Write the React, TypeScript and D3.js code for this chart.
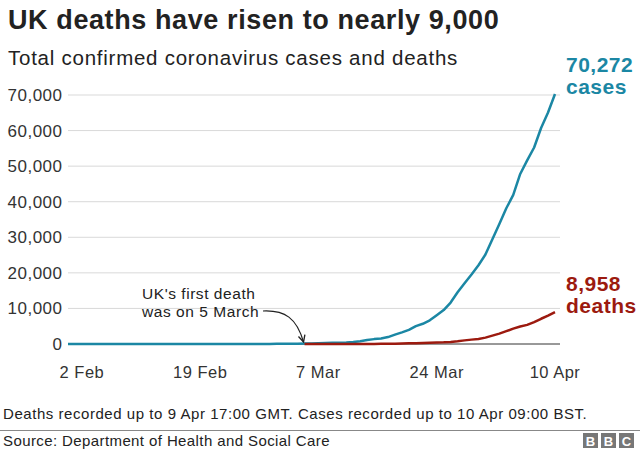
import React from "react";
import * as d3 from "d3";

const startDate = "2020-01-31";
const casesValues = [
  2, 2, 2, 2, 2, 2, 3, 3, 3, 4, 8, 8, 9, 9, 9, 9, 9, 9, 9, 9, 9, 9, 9, 9, 13, 13, 13, 15, 20, 23,
  36, 40, 51, 85, 115, 163, 206, 273, 321, 373, 456, 590, 798, 1140, 1372, 1543, 1950, 2626, 3269, 3983,
  5018, 5683, 6650, 8077, 9529, 11658, 14543, 17089, 19522, 22141, 25150,
  29474, 33718, 38168, 41903, 47806, 51608, 55242, 60733, 65077, 70272,
];
const deathsStart = "2020-03-05";
const deathsValues = [
  1, 2, 2, 3, 4, 6, 8, 8, 10, 21, 35, 55, 71, 104, 144, 177, 233, 281, 335, 422, 465, 578, 759, 1019,
  1228, 1408, 1789, 2352, 2921, 3605, 4313, 4934, 5373, 6159, 7097, 7978, 8958,
];
const yTicks = [0, 10000, 20000, 30000, 40000, 50000, 60000, 70000];
const xTickDates = ["2020-02-02", "2020-02-19", "2020-03-07", "2020-03-24", "2020-04-10"];
const xTickLabels = ["2 Feb", "19 Feb", "7 Mar", "24 Mar", "10 Apr"];

const TEAL = "#1b87a4";
const RED = "#9c1a0f";
const FONT = "Liberation Sans, Arial, Helvetica, sans-serif";

function series(start: string, vals: number[]) {
  const s = new Date(start + "T00:00:00Z");
  return vals.map((v, i) => ({ date: d3.utcDay.offset(s, i), value: v }));
}

export default function App() {
  const cases = series(startDate, casesValues);
  const deaths = series(deathsStart, deathsValues);
  const x = d3
    .scaleUtc()
    .domain([new Date("2020-01-31T00:00:00Z"), new Date("2020-04-10T00:00:00Z")])
    .range([68, 555]);
  const y = d3.scaleLinear().domain([0, 70000]).range([344, 95]);
  const line = d3
    .line<{ date: Date; value: number }>()
    .x((d) => x(d.date))
    .y((d) => y(d.value));
  const fmt = d3.format(",");
  const firstDeathX = x(new Date(deathsStart + "T00:00:00Z"));

  return (
    <svg
      width={640}
      height={450}
      style={{ position: "absolute", left: 0, top: 0, background: "#fff" }}
      fontFamily={FONT}
    >
      <defs>
        <marker id="arr" viewBox="0 0 10 10" refX="9" refY="5" markerWidth="7" markerHeight="7" orient="auto">
          <path d="M1,1 L9,5 L1,9" fill="none" stroke="#222" strokeWidth={1.6} />
        </marker>
      </defs>
      <text x={8} y={29} fontSize={27} fontWeight="bold" fill="#222" letterSpacing={0.6}>
        UK deaths have risen to nearly 9,000
      </text>
      <text x={8} y={64.5} fontSize={20.5} fill="#222" letterSpacing={0.75}>
        Total confirmed coronavirus cases and deaths
      </text>
      {yTicks.map((t) => (
        <g key={t}>
          <line
            x1={68}
            x2={560}
            y1={y(t)}
            y2={y(t)}
            stroke={t === 0 ? "#333" : "#d9d9d9"}
            strokeWidth={1}
          />
          <text x={62.5} y={y(t) + 6} fontSize={17} textAnchor="end" fill="#333" letterSpacing={0.5}>
            {fmt(t)}
          </text>
        </g>
      ))}
      {xTickDates.map((d, i) => (
        <text
          key={d}
          x={x(new Date(d + "T00:00:00Z"))}
          y={378}
          fontSize={16.5}
          textAnchor="middle"
          fill="#333"
          letterSpacing={0.5}
        >
          {xTickLabels[i]}
        </text>
      ))}
      <path d={line(cases) || ""} fill="none" stroke={TEAL} strokeWidth={2.5} strokeLinejoin="round" />
      <path d={line(deaths) || ""} fill="none" stroke={RED} strokeWidth={2.5} strokeLinejoin="round" />
      <text x={566} y={72} fontSize={21} fontWeight="bold" fill={TEAL} letterSpacing={0.5}>
        {fmt(casesValues[casesValues.length - 1])}
      </text>
      <text x={566} y={94} fontSize={21} fontWeight="bold" fill={TEAL} letterSpacing={0.5}>
        cases
      </text>
      <text x={566} y={291} fontSize={21} fontWeight="bold" fill={RED} letterSpacing={0.5}>
        {fmt(deathsValues[deathsValues.length - 1])}
      </text>
      <text x={566} y={313} fontSize={21} fontWeight="bold" fill={RED} letterSpacing={0.5}>
        deaths
      </text>
      <text x={142} y={299} fontSize={15.5} fill="#222" letterSpacing={0.55}>
        UK's first death
      </text>
      <text x={142} y={317} fontSize={15.5} fill="#222" letterSpacing={0.55}>
        was on 5 March
      </text>
      <path
        d={`M263,311 C285,310 ${firstDeathX - 8},318 ${firstDeathX - 1},${y(0) - 2}`}
        fill="none"
        stroke="#222"
        strokeWidth={1.2}
        markerEnd="url(#arr)"
      />
      <text x={3} y={419} fontSize={15} fill="#222" letterSpacing={0.55}>
        Deaths recorded up to 9 Apr 17:00 GMT. Cases recorded up to 10 Apr 09:00 BST.
      </text>
      <line x1={0} x2={640} y1={430.5} y2={430.5} stroke="#888" strokeWidth={1} />
      <text x={3} y={446} fontSize={15} fill="#222" letterSpacing={0.4}>
        Source: Department of Health and Social Care
      </text>
      {["B", "B", "C"].map((c, i) => (
        <g key={i}>
          <rect x={583 + i * 18} y={433} width={15} height={15} fill="#777" />
          <text x={590.5 + i * 18} y={445.5} fontSize={13} fontWeight="bold" fill="#fff" textAnchor="middle">
            {c}
          </text>
        </g>
      ))}
    </svg>
  );
}
